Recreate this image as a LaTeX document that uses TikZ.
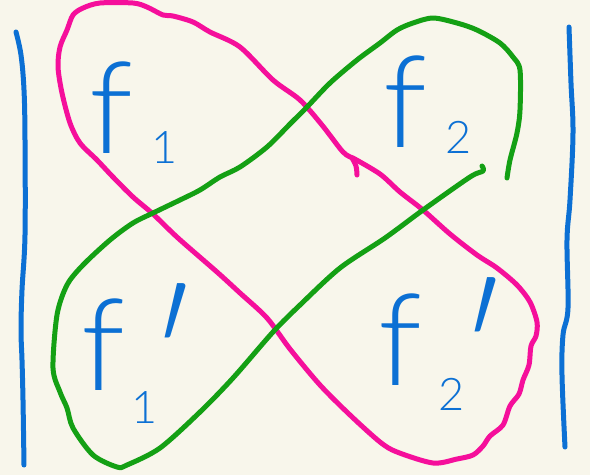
\documentclass[tikz,border=0pt]{standalone}
\usepackage{fontspec}
\newfontfamily\hand{Lato}[UprightFont={* Light}]
\definecolor{bg}{RGB}{248,246,235}
\definecolor{pen}{RGB}{12,112,212}
\definecolor{pink}{RGB}{245,15,155}
\definecolor{leaf}{RGB}{20,160,20}
\newcommand\subsz{\fontsize{45}{45}\selectfont}
\newcommand\primesz{\fontsize{180}{180}\selectfont}
% place #3 centred dx=#1 right of the anchor, baseline raised by #2
\newcommand\putlbl[3]{\hspace*{#1}\raisebox{#2}{\makebox[0pt]{#3}}\hspace*{-#1}}
% place #3 centred dx=#1 right, with its top at #2 above the baseline
\newcommand\puttop[3]{\hspace*{#1}\raisebox{\dimexpr#2-\height\relax}{\makebox[0pt]{#3}}\hspace*{-#1}}
\tikzset{
  stroke/.style={line width=5pt, line cap=round, line join=round},
  flabel/.style={text=pen, font=\hand\fontsize{128}{128}\selectfont, anchor=base, inner sep=0pt}
}
\begin{document}
\begin{tikzpicture}[x=1pt,y=-1pt]
\useasboundingbox (0,0) rectangle (590,475);
\fill[bg] (0,0) rectangle (590,475);
% outer bars
\draw[stroke, pen] plot[smooth, tension=0.6] coordinates {(16,32) (21,55) (24,90) (25,140) (25,235) (22,290) (21,330) (22,360) (23,400) (24,465)};
\draw[stroke, pen] plot[smooth, tension=0.6] coordinates {(569,27) (571,83) (573,133) (570,200) (567,240) (568,308) (563,335) (562,375) (565,447)};
% magenta loop
\draw[stroke, pink] plot[smooth, tension=0.5] coordinates {(353,158) (380,174) (400,192) (423,210) (450,234) (477,255) (497,268) (517,285) (530,302) (537,322) (536,336) (531,346) (529,365) (523,380) (519,394) (510,406) (503,425) (490,436) (483,446) (473,455) (457,459) (433,463) (397,452) (380,442) (350,415) (320,385) (290,349) (267,318) (240,293) (217,272) (178,238) (153,214) (133,197) (113,177) (97,160) (80,143) (70,123) (62,93) (58,67) (60,47) (67,30) (73,15) (83,8) (100,3) (133,3) (147,7) (163,15) (173,16) (193,22) (210,32) (240,47) (273,80) (300,100) (322,125) (343,152) (353,158)};
\draw[stroke, pink] plot[smooth, tension=0.6] coordinates {(352,158) (356,166) (357,175)};
% green loop
\draw[stroke, leaf] plot[smooth, tension=0.5] coordinates {(507,178) (510,160) (517,133) (520,110) (520,70) (513,57) (500,43) (477,30) (457,23) (433,18) (413,23) (397,30) (380,43) (357,60) (330,83) (307,107) (290,124) (267,147) (240,167) (220,177) (200,190) (180,200) (153,213) (133,223) (110,240) (83,265) (67,285) (57,315) (53,368) (60,392) (67,408) (73,428) (93,455) (117,467) (127,465) (160,448) (200,412) (233,378) (273,332) (300,305) (340,268) (385,238) (423,210) (470,177) (483,171) (482,166)};
% labels
\node[flabel] (fa) at (111,153) {\makebox[0pt]{f}\putlbl{54pt}{-10pt}{\subsz 1}};
\node[flabel] (fb) at (405,147) {\makebox[0pt]{f}\putlbl{54pt}{-6pt}{\subsz 2}};
\node[flabel] (fc) at (103,390) {\makebox[0pt]{f}\putlbl{42pt}{-33pt}{\subsz 1}\puttop{71pt}{106pt}{\primesz ′}};
\node[flabel] (fd) at (400,385) {\makebox[0pt]{f}\putlbl{52pt}{-25pt}{\subsz 2}\puttop{84pt}{107pt}{\primesz ′}};
\end{tikzpicture}
\end{document}
